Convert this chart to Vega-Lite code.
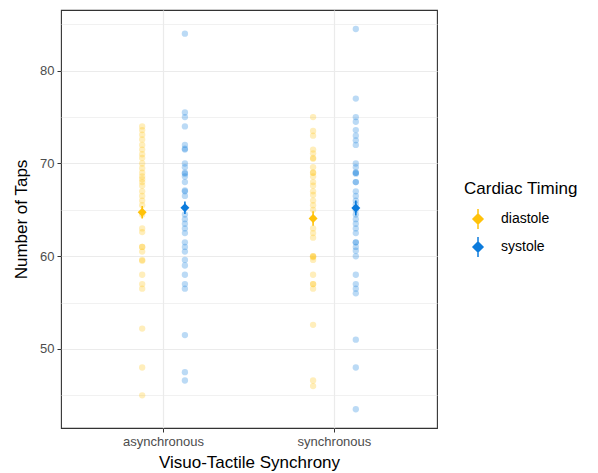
{
  "$schema": "https://vega.github.io/schema/vega-lite/v6.json",
  "width": 376,
  "height": 418,
  "autosize": "none",
  "padding": {"left": 61, "top": 10, "right": 161, "bottom": 45},
  "background": "white",
  "config": {
    "font": "Liberation Sans",
    "view": {"stroke": "#333333", "strokeWidth": 1.1},
    "axis": {
      "domain": false,
      "tickColor": "#333333",
      "tickSize": 4,
      "labelColor": "#4D4D4D",
      "labelFontSize": 13,
      "labelPadding": 3,
      "titleColor": "#000000",
      "titleFontSize": 17,
      "titleFontWeight": "normal",
      "gridColor": "#EBEBEB"
    }
  },
  "datasets": {
    "points": [
      {"Condition": "asynchronous", "Timing": "diastole", "Taps": 74.0},
      {"Condition": "asynchronous", "Timing": "diastole", "Taps": 73.6},
      {"Condition": "asynchronous", "Timing": "diastole", "Taps": 73.1},
      {"Condition": "asynchronous", "Timing": "diastole", "Taps": 72.6},
      {"Condition": "asynchronous", "Timing": "diastole", "Taps": 72.0},
      {"Condition": "asynchronous", "Timing": "diastole", "Taps": 71.5},
      {"Condition": "asynchronous", "Timing": "diastole", "Taps": 71.0},
      {"Condition": "asynchronous", "Timing": "diastole", "Taps": 70.6},
      {"Condition": "asynchronous", "Timing": "diastole", "Taps": 70.0},
      {"Condition": "asynchronous", "Timing": "diastole", "Taps": 69.5},
      {"Condition": "asynchronous", "Timing": "diastole", "Taps": 69.0},
      {"Condition": "asynchronous", "Timing": "diastole", "Taps": 68.6},
      {"Condition": "asynchronous", "Timing": "diastole", "Taps": 68.3},
      {"Condition": "asynchronous", "Timing": "diastole", "Taps": 68.0},
      {"Condition": "asynchronous", "Timing": "diastole", "Taps": 67.6},
      {"Condition": "asynchronous", "Timing": "diastole", "Taps": 67.0},
      {"Condition": "asynchronous", "Timing": "diastole", "Taps": 66.5},
      {"Condition": "asynchronous", "Timing": "diastole", "Taps": 66.0},
      {"Condition": "asynchronous", "Timing": "diastole", "Taps": 65.5},
      {"Condition": "asynchronous", "Timing": "diastole", "Taps": 64.5},
      {"Condition": "asynchronous", "Timing": "diastole", "Taps": 63.0},
      {"Condition": "asynchronous", "Timing": "diastole", "Taps": 62.6},
      {"Condition": "asynchronous", "Timing": "diastole", "Taps": 61.0},
      {"Condition": "asynchronous", "Timing": "diastole", "Taps": 61.0},
      {"Condition": "asynchronous", "Timing": "diastole", "Taps": 60.5},
      {"Condition": "asynchronous", "Timing": "diastole", "Taps": 59.6},
      {"Condition": "asynchronous", "Timing": "diastole", "Taps": 59.5},
      {"Condition": "asynchronous", "Timing": "diastole", "Taps": 58.0},
      {"Condition": "asynchronous", "Timing": "diastole", "Taps": 57.0},
      {"Condition": "asynchronous", "Timing": "diastole", "Taps": 56.5},
      {"Condition": "asynchronous", "Timing": "diastole", "Taps": 52.2},
      {"Condition": "asynchronous", "Timing": "diastole", "Taps": 48.0},
      {"Condition": "asynchronous", "Timing": "diastole", "Taps": 45.0},
      {"Condition": "asynchronous", "Timing": "systole", "Taps": 84.0},
      {"Condition": "asynchronous", "Timing": "systole", "Taps": 75.5},
      {"Condition": "asynchronous", "Timing": "systole", "Taps": 75.0},
      {"Condition": "asynchronous", "Timing": "systole", "Taps": 74.0},
      {"Condition": "asynchronous", "Timing": "systole", "Taps": 72.0},
      {"Condition": "asynchronous", "Timing": "systole", "Taps": 71.5},
      {"Condition": "asynchronous", "Timing": "systole", "Taps": 71.6},
      {"Condition": "asynchronous", "Timing": "systole", "Taps": 70.0},
      {"Condition": "asynchronous", "Timing": "systole", "Taps": 69.6},
      {"Condition": "asynchronous", "Timing": "systole", "Taps": 69.0},
      {"Condition": "asynchronous", "Timing": "systole", "Taps": 68.9},
      {"Condition": "asynchronous", "Timing": "systole", "Taps": 68.6},
      {"Condition": "asynchronous", "Timing": "systole", "Taps": 68.0},
      {"Condition": "asynchronous", "Timing": "systole", "Taps": 67.0},
      {"Condition": "asynchronous", "Timing": "systole", "Taps": 67.1},
      {"Condition": "asynchronous", "Timing": "systole", "Taps": 66.5},
      {"Condition": "asynchronous", "Timing": "systole", "Taps": 64.5},
      {"Condition": "asynchronous", "Timing": "systole", "Taps": 64.0},
      {"Condition": "asynchronous", "Timing": "systole", "Taps": 63.5},
      {"Condition": "asynchronous", "Timing": "systole", "Taps": 63.0},
      {"Condition": "asynchronous", "Timing": "systole", "Taps": 62.5},
      {"Condition": "asynchronous", "Timing": "systole", "Taps": 61.5},
      {"Condition": "asynchronous", "Timing": "systole", "Taps": 61.0},
      {"Condition": "asynchronous", "Timing": "systole", "Taps": 60.5},
      {"Condition": "asynchronous", "Timing": "systole", "Taps": 59.6},
      {"Condition": "asynchronous", "Timing": "systole", "Taps": 59.0},
      {"Condition": "asynchronous", "Timing": "systole", "Taps": 58.0},
      {"Condition": "asynchronous", "Timing": "systole", "Taps": 57.0},
      {"Condition": "asynchronous", "Timing": "systole", "Taps": 56.5},
      {"Condition": "asynchronous", "Timing": "systole", "Taps": 51.5},
      {"Condition": "asynchronous", "Timing": "systole", "Taps": 47.5},
      {"Condition": "asynchronous", "Timing": "systole", "Taps": 46.6},
      {"Condition": "synchronous", "Timing": "diastole", "Taps": 75.0},
      {"Condition": "synchronous", "Timing": "diastole", "Taps": 73.5},
      {"Condition": "synchronous", "Timing": "diastole", "Taps": 73.0},
      {"Condition": "synchronous", "Timing": "diastole", "Taps": 71.5},
      {"Condition": "synchronous", "Timing": "diastole", "Taps": 71.1},
      {"Condition": "synchronous", "Timing": "diastole", "Taps": 70.6},
      {"Condition": "synchronous", "Timing": "diastole", "Taps": 70.5},
      {"Condition": "synchronous", "Timing": "diastole", "Taps": 69.6},
      {"Condition": "synchronous", "Timing": "diastole", "Taps": 69.0},
      {"Condition": "synchronous", "Timing": "diastole", "Taps": 69.0},
      {"Condition": "synchronous", "Timing": "diastole", "Taps": 68.6},
      {"Condition": "synchronous", "Timing": "diastole", "Taps": 68.0},
      {"Condition": "synchronous", "Timing": "diastole", "Taps": 67.6},
      {"Condition": "synchronous", "Timing": "diastole", "Taps": 67.0},
      {"Condition": "synchronous", "Timing": "diastole", "Taps": 66.6},
      {"Condition": "synchronous", "Timing": "diastole", "Taps": 66.0},
      {"Condition": "synchronous", "Timing": "diastole", "Taps": 65.5},
      {"Condition": "synchronous", "Timing": "diastole", "Taps": 65.0},
      {"Condition": "synchronous", "Timing": "diastole", "Taps": 64.1},
      {"Condition": "synchronous", "Timing": "diastole", "Taps": 63.0},
      {"Condition": "synchronous", "Timing": "diastole", "Taps": 62.5},
      {"Condition": "synchronous", "Timing": "diastole", "Taps": 62.0},
      {"Condition": "synchronous", "Timing": "diastole", "Taps": 60.0},
      {"Condition": "synchronous", "Timing": "diastole", "Taps": 60.0},
      {"Condition": "synchronous", "Timing": "diastole", "Taps": 59.9},
      {"Condition": "synchronous", "Timing": "diastole", "Taps": 59.6},
      {"Condition": "synchronous", "Timing": "diastole", "Taps": 58.0},
      {"Condition": "synchronous", "Timing": "diastole", "Taps": 57.0},
      {"Condition": "synchronous", "Timing": "diastole", "Taps": 57.0},
      {"Condition": "synchronous", "Timing": "diastole", "Taps": 56.5},
      {"Condition": "synchronous", "Timing": "diastole", "Taps": 52.6},
      {"Condition": "synchronous", "Timing": "diastole", "Taps": 46.6},
      {"Condition": "synchronous", "Timing": "diastole", "Taps": 46.0},
      {"Condition": "synchronous", "Timing": "systole", "Taps": 84.5},
      {"Condition": "synchronous", "Timing": "systole", "Taps": 77.0},
      {"Condition": "synchronous", "Timing": "systole", "Taps": 75.0},
      {"Condition": "synchronous", "Timing": "systole", "Taps": 74.5},
      {"Condition": "synchronous", "Timing": "systole", "Taps": 73.6},
      {"Condition": "synchronous", "Timing": "systole", "Taps": 73.0},
      {"Condition": "synchronous", "Timing": "systole", "Taps": 72.5},
      {"Condition": "synchronous", "Timing": "systole", "Taps": 72.0},
      {"Condition": "synchronous", "Timing": "systole", "Taps": 70.0},
      {"Condition": "synchronous", "Timing": "systole", "Taps": 69.6},
      {"Condition": "synchronous", "Timing": "systole", "Taps": 69.0},
      {"Condition": "synchronous", "Timing": "systole", "Taps": 69.0},
      {"Condition": "synchronous", "Timing": "systole", "Taps": 68.9},
      {"Condition": "synchronous", "Timing": "systole", "Taps": 68.0},
      {"Condition": "synchronous", "Timing": "systole", "Taps": 68.0},
      {"Condition": "synchronous", "Timing": "systole", "Taps": 67.0},
      {"Condition": "synchronous", "Timing": "systole", "Taps": 66.5},
      {"Condition": "synchronous", "Timing": "systole", "Taps": 66.0},
      {"Condition": "synchronous", "Timing": "systole", "Taps": 65.6},
      {"Condition": "synchronous", "Timing": "systole", "Taps": 65.0},
      {"Condition": "synchronous", "Timing": "systole", "Taps": 64.5},
      {"Condition": "synchronous", "Timing": "systole", "Taps": 64.0},
      {"Condition": "synchronous", "Timing": "systole", "Taps": 63.5},
      {"Condition": "synchronous", "Timing": "systole", "Taps": 63.0},
      {"Condition": "synchronous", "Timing": "systole", "Taps": 62.5},
      {"Condition": "synchronous", "Timing": "systole", "Taps": 61.5},
      {"Condition": "synchronous", "Timing": "systole", "Taps": 61.5},
      {"Condition": "synchronous", "Timing": "systole", "Taps": 61.0},
      {"Condition": "synchronous", "Timing": "systole", "Taps": 60.6},
      {"Condition": "synchronous", "Timing": "systole", "Taps": 60.0},
      {"Condition": "synchronous", "Timing": "systole", "Taps": 58.0},
      {"Condition": "synchronous", "Timing": "systole", "Taps": 57.0},
      {"Condition": "synchronous", "Timing": "systole", "Taps": 56.5},
      {"Condition": "synchronous", "Timing": "systole", "Taps": 56.0},
      {"Condition": "synchronous", "Timing": "systole", "Taps": 51.0},
      {"Condition": "synchronous", "Timing": "systole", "Taps": 48.0},
      {"Condition": "synchronous", "Timing": "systole", "Taps": 43.5}
    ],
    "summary": [
      {"Condition": "asynchronous", "Timing": "diastole", "mean": 64.75, "lower": 64.07, "upper": 65.43},
      {"Condition": "asynchronous", "Timing": "systole", "mean": 65.22, "lower": 64.55, "upper": 65.9},
      {"Condition": "synchronous", "Timing": "diastole", "mean": 64.07, "lower": 63.3, "upper": 64.85},
      {"Condition": "synchronous", "Timing": "systole", "mean": 65.2, "lower": 64.4, "upper": 66.0}
    ]
  },
  "layer": [
    {
      "data": {"name": "points"},
      "mark": {"type": "point", "filled": true, "size": 40, "opacity": 0.28},
      "encoding": {
        "x": {
          "field": "Condition", "type": "nominal",
          "scale": {"paddingInner": 0, "paddingOuter": 0.1},
          "axis": {"title": "Visuo-Tactile Synchrony", "labelAngle": 0, "grid": true, "gridWidth": 1.2, "titlePadding": 6}
        },
        "xOffset": {"field": "Timing", "type": "nominal", "scale": {"paddingInner": 0, "paddingOuter": 1}},
        "y": {
          "field": "Taps", "type": "quantitative",
          "scale": {"domain": [41.48, 86.55], "nice": false, "zero": false},
          "axis": {
            "title": "Number of Taps",
            "values": [45, 50, 55, 60, 65, 70, 75, 80, 85],
            "labelExpr": "datum.value % 10 === 0 ? datum.label : ''",
            "tickOpacity": {"condition": {"test": "datum.value % 10 === 0", "value": 1}, "value": 0},
            "gridWidth": {"condition": {"test": "datum.value % 10 === 0", "value": 1.2}, "value": 0.7},
            "titlePadding": 9
          }
        },
        "color": {
          "field": "Timing", "type": "nominal",
          "scale": {"domain": ["diastole", "systole"], "range": ["#FFC20A", "#0C7BDC"]},
          "legend": {
            "title": "Cardiac Timing",
            "orient": "none",
            "legendX": 403,
            "legendY": 171,
            "titleFontSize": 17,
            "titleFontWeight": "normal",
            "titleColor": "#000000",
            "titlePadding": 14,
            "labelFontSize": 14,
            "labelColor": "#000000",
            "labelOffset": 16,
            "rowPadding": 2,
            "symbolOffset": 7,
            "symbolType": "M-1,0L0,-1L1,0L0,1Z M0,-2L0,2",
            "symbolSize": 100,
            "symbolOpacity": 1,
            "symbolStrokeWidth": 1.5,
            "encode": {"symbols": {"update": {"fill": {"scale": "color", "field": "value"}, "stroke": {"scale": "color", "field": "value"}, "opacity": {"value": 1}}}}
          }
        }
      }
    },
    {
      "data": {"name": "summary"},
      "mark": {"type": "rule", "strokeWidth": 1.6},
      "encoding": {
        "x": {"field": "Condition", "type": "nominal"},
        "xOffset": {"field": "Timing", "type": "nominal"},
        "y": {"field": "lower", "type": "quantitative"},
        "y2": {"field": "upper"},
        "color": {"field": "Timing", "type": "nominal"}
      }
    },
    {
      "data": {"name": "summary"},
      "mark": {"type": "point", "shape": "diamond", "filled": true, "size": 80, "opacity": 1},
      "encoding": {
        "x": {"field": "Condition", "type": "nominal"},
        "xOffset": {"field": "Timing", "type": "nominal"},
        "y": {"field": "mean", "type": "quantitative"},
        "color": {"field": "Timing", "type": "nominal"}
      }
    }
  ]
}
